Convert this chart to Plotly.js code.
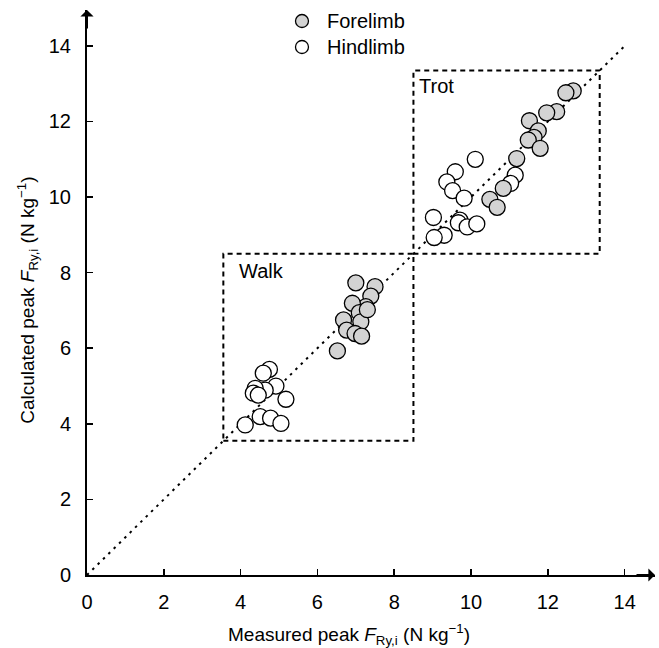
<!DOCTYPE html>
<html>
<head>
<meta charset="utf-8">
<script src="https://cdn.plot.ly/plotly-3.0.1.min.js"></script>
<style>html,body{margin:0;padding:0;background:#fff;}#chart{width:659px;height:648px;}</style>
</head>
<body>
<div id="chart"></div>
<script>
// Forelimb (grey) points: measured vs calculated peak force
var foreX = [7.00, 7.50, 7.39, 7.26, 6.91, 7.09, 6.68, 7.13, 6.76, 6.98, 7.15, 6.52, 7.30,
             12.66, 12.47, 12.23, 11.97, 11.52, 11.75, 11.64, 11.49, 11.80, 11.19, 10.84, 10.49, 10.68];
var foreY = [7.73, 7.63, 7.38, 7.10, 7.19, 6.94, 6.75, 6.70, 6.48, 6.39, 6.32, 5.93, 7.02,
             12.81, 12.76, 12.26, 12.23, 12.02, 11.75, 11.58, 11.51, 11.29, 11.02, 10.23, 9.94, 9.73];
// Hindlimb (white) points
var hindX = [4.75, 4.59, 4.92, 4.64, 4.38, 4.33, 4.46, 5.18, 4.51, 4.78, 5.05, 4.12,
             10.11, 9.59, 9.37, 9.52, 9.82, 11.15, 11.03, 9.02, 9.71, 9.67, 9.90, 10.15, 9.30, 9.04];
var hindY = [5.44, 5.34, 5.00, 4.89, 4.94, 4.81, 4.76, 4.65, 4.19, 4.15, 4.01, 3.97,
             11.00, 10.67, 10.40, 10.17, 9.97, 10.58, 10.36, 9.46, 9.39, 9.32, 9.21, 9.29, 8.99, 8.93];
var tickValues = [0, 2, 4, 6, 8, 10, 12, 14];
var walkBox = [3.55, 8.5];
var trotBox = [8.5, 13.35];
var identityLine = [0, 14];
var seriesNames = ['Forelimb', 'Hindlimb'];
var seriesFill = ['#d3d3d3', '#ffffff'];

var FONT = 'Liberation Sans, Arial, sans-serif';
var FS = 20;

var traces = [
  {x: hindX, y: hindY, type: 'scatter', mode: 'markers', name: seriesNames[1],
   marker: {size: 16, color: seriesFill[1], line: {color: '#000', width: 1.3}}, cliponaxis: false},
  {x: foreX, y: foreY, type: 'scatter', mode: 'markers', name: seriesNames[0],
   marker: {size: 16, color: seriesFill[0], line: {color: '#000', width: 1.3}}, cliponaxis: false}
];

function box(b) {
  return {type: 'rect', xref: 'x', yref: 'y', x0: b[0], x1: b[1], y0: b[0], y1: b[1],
          line: {color: '#000', width: 2, dash: '5px,4px'}, layer: 'below'};
}

// legend (drawn manually for exact spacing)
var legX = 0.3785, legTextX = 0.419, legY = [0.9805, 0.9345];
var legendShapes = seriesNames.map(function (n, i) {
  return {type: 'circle', xref: 'paper', yref: 'paper', xsizemode: 'pixel', ysizemode: 'pixel',
          xanchor: legX, yanchor: legY[i], x0: -6.5, x1: 6.5, y0: -6.5, y1: 6.5,
          fillcolor: seriesFill[i], line: {color: '#000', width: 1.3}};
});
var legendTexts = seriesNames.map(function (n, i) {
  return {xref: 'paper', yref: 'paper', x: legTextX, y: legY[i], text: n, showarrow: false,
          xanchor: 'left', yanchor: 'middle', font: {family: FONT, size: FS}};
});

var layout = {
  width: 659, height: 648,
  margin: {l: 87, r: 4, t: 10, b: 73},
  paper_bgcolor: '#fff', plot_bgcolor: '#fff',
  font: {family: FONT, size: FS, color: '#000'},
  showlegend: false,
  xaxis: {range: [0, 14.79], tickvals: tickValues, ticktext: tickValues.map(String),
          ticks: 'inside', ticklen: 6, tickwidth: 1.5, tickcolor: '#000',
          showline: true, linewidth: 2, linecolor: '#000', showgrid: false, zeroline: false,
          ticklabelstandoff: 8, tickfont: {family: FONT, size: FS}, fixedrange: true},
  yaxis: {range: [0, 14.95], tickvals: tickValues, ticktext: tickValues.map(String),
          ticks: 'inside', ticklen: 6, tickwidth: 1.5, tickcolor: '#000',
          showline: true, linewidth: 2, linecolor: '#000', showgrid: false, zeroline: false,
          ticklabelstandoff: 10, tickfont: {family: FONT, size: FS}, fixedrange: true},
  shapes: [
    box(walkBox), box(trotBox),
    {type: 'line', xref: 'x', yref: 'y', x0: identityLine[0], y0: identityLine[0],
     x1: identityLine[1], y1: identityLine[1],
     line: {color: '#000', width: 2, dash: '2.5px,5px'}, layer: 'below'}
  ].concat(legendShapes),
  annotations: [
    {xref: 'x', yref: 'y', x: walkBox[0] + 0.35, y: walkBox[1] - 0.45, text: 'Walk',
     showarrow: false, xanchor: 'left', yanchor: 'middle', font: {family: FONT, size: FS}},
    {xref: 'x', yref: 'y', x: trotBox[0] + 0.1, y: trotBox[1] - 0.42, text: 'Trot',
     showarrow: false, xanchor: 'left', yanchor: 'middle', font: {family: FONT, size: FS}},
    {xref: 'paper', yref: 'paper', x: 0.461, y: -0.106, xanchor: 'center', yanchor: 'middle',
     text: 'Measured peak <i>F</i><sub>Ry,i</sub> (N kg<sup>−1</sup>)', showarrow: false,
     font: {family: FONT, size: 19}},
    {xref: 'paper', yref: 'paper', x: -0.104, y: 0.487, xanchor: 'center', yanchor: 'middle',
     textangle: -90, text: 'Calculated peak <i>F</i><sub>Ry,i</sub> (N kg<sup>−1</sup>)',
     showarrow: false, font: {family: FONT, size: 19}},
    {xref: 'paper', yref: 'paper', x: 1, y: 0, ax: -20, ay: 0, axref: 'pixel', ayref: 'pixel',
     text: '', showarrow: true, arrowhead: 1, arrowsize: 1.1, arrowwidth: 2, arrowcolor: '#000'},
    {xref: 'paper', yref: 'paper', x: 0, y: 1, ax: 0, ay: 20, axref: 'pixel', ayref: 'pixel',
     text: '', showarrow: true, arrowhead: 1, arrowsize: 1.1, arrowwidth: 2, arrowcolor: '#000'}
  ].concat(legendTexts)
};

Plotly.newPlot('chart', traces, layout, {displayModeBar: false, staticPlot: true});
</script>
</body>
</html>
